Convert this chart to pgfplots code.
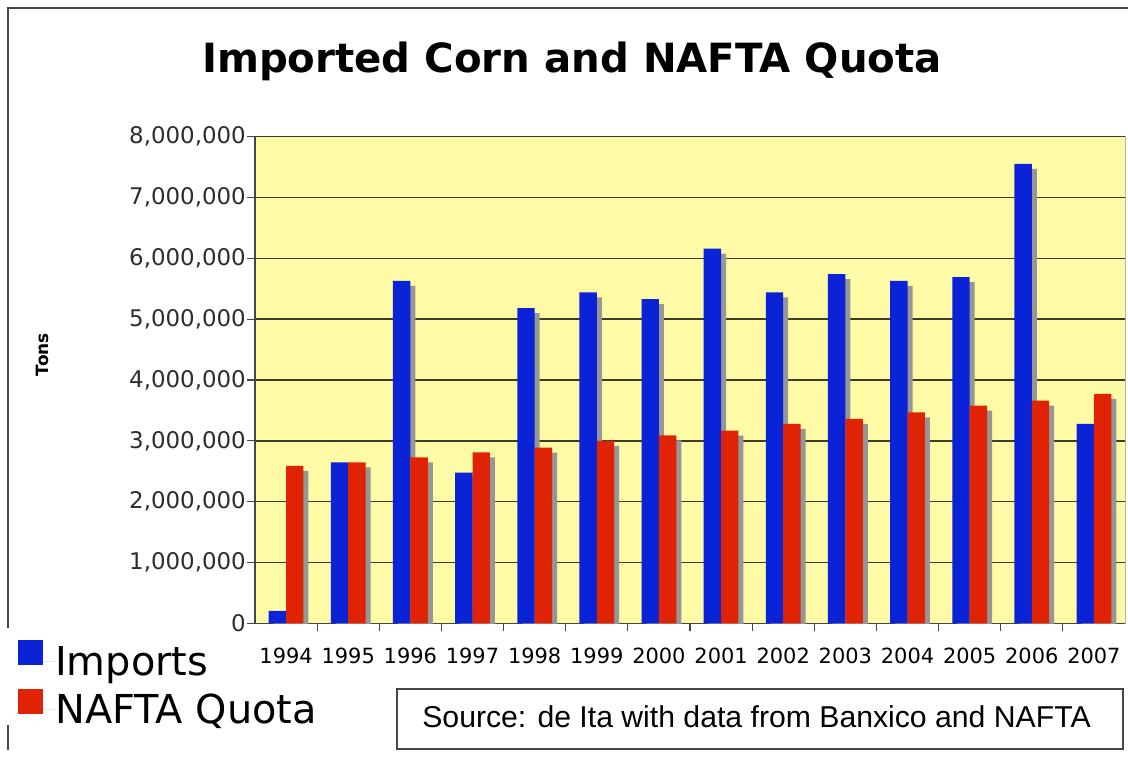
\documentclass[border=0pt]{standalone}
\usepackage{pgfplots}
\usepackage{pgfplotstable}
\pgfplotsset{compat=1.18}
\usepackage{fontspec}
\setmainfont{DejaVu Sans}
\newfontfamily\arialfont{Liberation Sans}
\definecolor{impblue}{RGB}{10,35,215}
\definecolor{quotared}{RGB}{225,35,5}
\definecolor{bgyellow}{RGB}{255,250,165}
\definecolor{shadowgray}{RGB}{150,150,150}
\definecolor{gridc}{RGB}{60,60,40}
\definecolor{framegray}{RGB}{70,70,70}
\definecolor{labgray}{RGB}{45,45,45}
\pgfplotstableread{
x imports
0 206000
1 2645000
2 5630000
3 2480000
4 5180000
5 5440000
6 5330000
7 6160000
8 5440000
9 5740000
10 5630000
11 5690000
12 7550000
13 3280000
}\importsdata
\pgfplotstableread{
x quota
0 2590000
1 2645000
2 2730000
3 2810000
4 2890000
5 3000000
6 3090000
7 3170000
8 3280000
9 3360000
10 3470000
11 3580000
12 3660000
13 3770000
}\quotadata
\begin{document}
\begin{tikzpicture}[x=1bp,y=1bp]
\useasboundingbox (0,0) rectangle (1128,757);
\draw[line width=2bp, framegray] (8,7) -- (8,32);
\draw[line width=2bp, framegray] (8,129) -- (8,749) -- (1128,749);
\begin{axis}[
  at={(255bp,133.5bp)}, anchor=south west,
  scale only axis, width=870bp, height=487bp,
  xmin=-0.5, xmax=13.5, ymin=0, ymax=8000000,
  scaled y ticks=false,
  axis background/.style={fill=bgyellow, draw=gray!60, line width=0.8bp},
  axis x line=bottom, axis y line=left,
  axis line style={-, draw=framegray, line width=1.5bp},
  ymajorgrids, major grid style={gridc, line width=1.3bp},
  tick align=outside, major tick length=8bp,
  tick style={draw=framegray, line width=1.2bp},
  ytick={0,1000000,2000000,3000000,4000000,5000000,6000000,7000000,8000000},
  yticklabels={0,{1,000,000},{2,000,000},{3,000,000},{4,000,000},{5,000,000},{6,000,000},{7,000,000},{8,000,000}},
  yticklabel style={font=\fontsize{23}{27}\selectfont, text=labgray, anchor=east, inner sep=0pt, xshift=-1bp},
  xtick={0.5,1.5,...,12.5}, xticklabels={},
  extra x ticks={0,1,...,13},
  extra x tick labels={1994,1995,1996,1997,1998,1999,2000,2001,2002,2003,2004,2005,2006,2007},
  extra x tick style={major tick length=0pt, grid=none},
  xticklabel style={font=\fontsize{21}{25}\selectfont, text=black, anchor=north, inner sep=0pt, yshift=-24.5bp},
  legend style={at={(-0.2724,-0.034)}, anchor=north west, draw=none, fill=none,
    font=\fontsize{40}{48}\selectfont, inner sep=0pt, row sep=12bp, column sep=0bp,
    nodes={inner sep=0pt}},
  legend cell align=left,
  clip=true,
]
% shadows (offset 5px right and 5px down)
\addplot[ybar, bar width=0.28, bar shift=-0.0595, fill=shadowgray, draw=none, yshift=-5bp, forget plot]
  table[x=x, y=imports] {\importsdata};
\addplot[ybar, bar width=0.28, bar shift=-0.14, fill=impblue, draw=none,
  legend image code/.code={\fill[impblue] (0bp,-4bp) rectangle (25bp,21bp); \path (25bp,0) -- (37bp,0);}]
  table[x=x, y=imports] {\importsdata};
\addlegendentry{Imports}
\addplot[ybar, bar width=0.28, bar shift=0.2205, fill=shadowgray, draw=none, yshift=-5bp, forget plot]
  table[x=x, y=quota] {\quotadata};
\addplot[ybar, bar width=0.28, bar shift=0.14, fill=quotared, draw=none,
  legend image code/.code={\fill[quotared] (0bp,-4bp) rectangle (25bp,21bp); \path (25bp,0) -- (37bp,0);}]
  table[x=x, y=quota] {\quotadata};
\addlegendentry{NAFTA Quota}
\end{axis}
\node[font=\fontsize{40.4}{48}\selectfont\bfseries, anchor=base] at (572,684) {Imported Corn and NAFTA Quota};
\node[font=\fontsize{17}{20}\selectfont\bfseries, rotate=90] at (42.5,402.5) {Tons};
\draw[line width=1.5bp, framegray] (397,8) rectangle (1123,68);
\node[font=\arialfont\fontsize{30.3}{36}\selectfont, anchor=base] at (756.5,29) {Source: de Ita with data from Banxico and NAFTA};
\end{tikzpicture}
\end{document}
